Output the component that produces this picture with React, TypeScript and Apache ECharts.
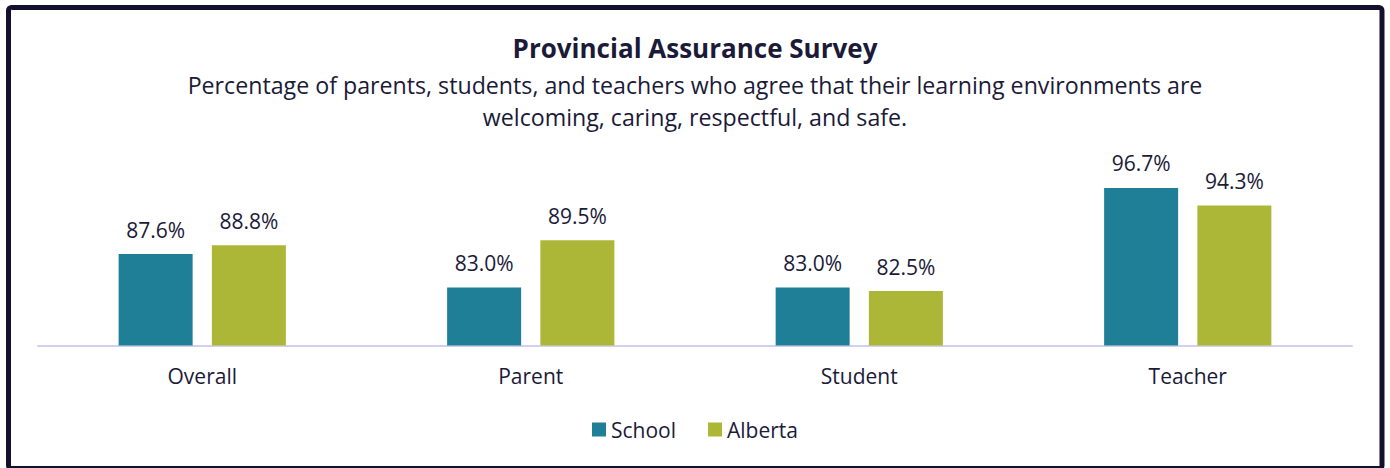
import React, { useEffect, useRef } from "react";
import * as echarts from "echarts";

const categories = ["Overall", "Parent", "Student", "Teacher"];
const schoolValues = [87.6, 83.0, 83.0, 96.7];
const albertaValues = [88.8, 89.5, 82.5, 94.3];
const seriesNames = ["School", "Alberta"];
const titleText = "Provincial Assurance Survey";
const subtitleLines = [
  "Percentage of parents, students, and teachers who agree that their learning environments are",
  "welcoming, caring, respectful, and safe.",
];

const FONT = "'Open Sans', 'Noto Sans', sans-serif";
const TEXT = "#1b1a38";

export default function App() {
  const ref = useRef<HTMLDivElement>(null);
  useEffect(() => {
    if (!ref.current) return;
    const chart = echarts.init(ref.current, null, { renderer: "svg" });
    const label = {
      show: true,
      position: "top",
      distance: 14,
      fontSize: 21,
      color: TEXT,
      fontFamily: FONT,
      formatter: (p: any) => p.value.toFixed(1) + "%",
    };
    chart.setOption({
      animation: false,
      backgroundColor: "#ffffff",
      textStyle: { fontFamily: FONT },
      legend: {
        data: seriesNames,
        left: "center",
        top: 414,
        icon: "rect",
        itemWidth: 14,
        itemHeight: 14,
        itemGap: 32,
        textStyle: { fontSize: 21, color: TEXT, fontFamily: FONT },
      },
      grid: { left: 38, right: 38, top: 164, bottom: 122.5, containLabel: false },
      xAxis: {
        type: "category",
        data: categories,
        axisLine: { show: true, lineStyle: { color: "#d3cff0", width: 2 } },
        axisTick: { show: false },
        axisLabel: { fontSize: 21, color: TEXT, fontFamily: FONT, margin: 20 },
      },
      yAxis: {
        type: "value",
        min: 75,
        max: 100,
        show: false,
        splitLine: { show: false },
      },
      series: [
        {
          name: seriesNames[0],
          type: "bar",
          data: schoolValues,
          barWidth: 74,
          barGap: "26%",
          itemStyle: { color: "#1e7f96" },
          label,
        },
        {
          name: seriesNames[1],
          type: "bar",
          data: albertaValues,
          barWidth: 74,
          barGap: "26%",
          itemStyle: { color: "#adb737" },
          label,
        },
      ],
      graphic: [
        {
          type: "text",
          x: 695,
          y: 48,
          style: {
            text: titleText,
            fill: TEXT,
            font: `bold 26px ${FONT}`,
            textAlign: "center",
            textVerticalAlign: "middle",
          },
        },
        {
          type: "text",
          x: 695,
          y: 85,
          style: {
            text: subtitleLines[0],
            fill: TEXT,
            font: `23.2px ${FONT}`,
            textAlign: "center",
            textVerticalAlign: "middle",
          },
        },
        {
          type: "text",
          x: 695,
          y: 117,
          style: {
            text: subtitleLines[1],
            fill: TEXT,
            font: `23.2px ${FONT}`,
            textAlign: "center",
            textVerticalAlign: "middle",
          },
        },
        {
          type: "rect",
          shape: { x: 8.5, y: 7.5, width: 1373.5, height: 461, r: 3 },
          style: { fill: "none", stroke: "#14112e", lineWidth: 5 },
          z: 100,
        },
      ],
    });
    return () => chart.dispose();
  }, []);
  return (
    <div
      ref={ref}
      style={{ position: "fixed", left: 0, top: 0, width: 1390, height: 468 }}
    />
  );
}
